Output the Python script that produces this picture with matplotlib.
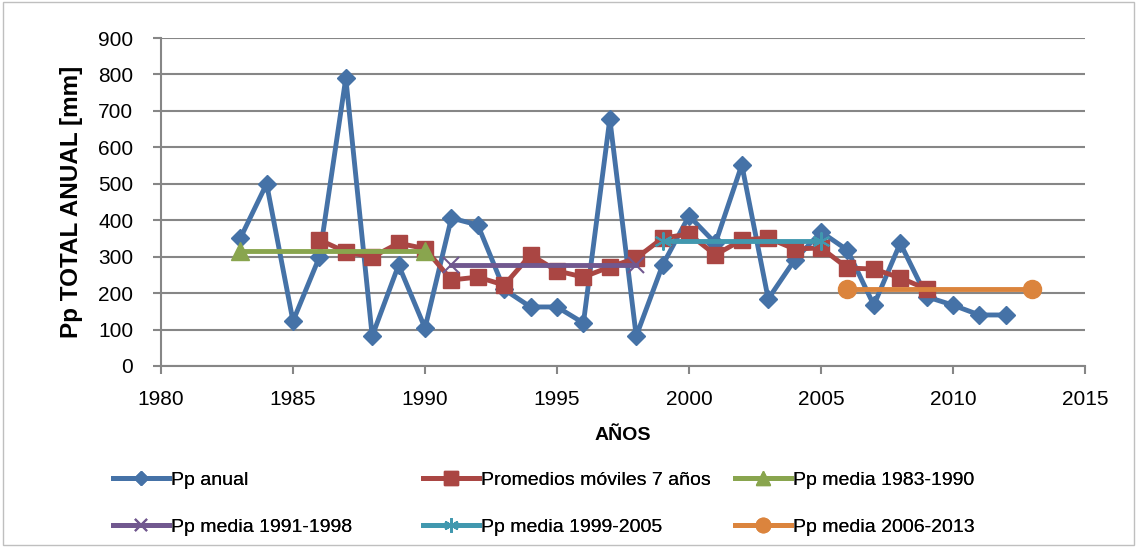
import matplotlib.pyplot as plt

plt.rcParams['font.family'] = ['Liberation Sans', 'DejaVu Sans']

# Precipitación anual
anios = list(range(1983, 2013))
pp_anual = [350, 500, 123, 299, 790, 82, 277, 104, 406, 387,
            210, 162, 162, 118, 678, 82, 277, 412, 337, 552,
            184, 291, 368, 318, 167, 337, 190, 167, 140, 140]

# Promedios móviles de 7 años
anios_pm = list(range(1986, 2010))
prom_moviles = [346, 313, 299, 337, 322, 236, 244, 222, 305, 261,
                244, 272, 296, 351, 362, 305, 346, 351, 321, 324,
                269, 266, 242, 211]

# Medias por periodo
periodos = [(1983, 1990), (1991, 1998), (1999, 2005), (2006, 2013)]
medias = [315, 277, 343, 210]

etiquetas = ['Pp anual', 'Promedios móviles 7 años', 'Pp media 1983-1990',
             'Pp media 1991-1998', 'Pp media 1999-2005', 'Pp media 2006-2013']
colores = ['#4572A7', '#AA4643', '#89A54E', '#71588F', '#4198AF', '#DB843D']
asterisco = (6, 2, 0)
marcadores = ['D', 's', '^', 'x', asterisco, 'o']
tamanos = [13, 11, 13, 13]

fig = plt.figure(figsize=(11.37, 5.47), dpi=100)
ax = fig.add_axes([0.1416, 0.3309, 0.8127, 0.5996])

lineas = []
l, = ax.plot(anios, pp_anual, color=colores[0], lw=3.5, marker='D', ms=9, zorder=3)
lineas.append(l)
l, = ax.plot(anios_pm, prom_moviles, color=colores[1], lw=3.5, marker='s', ms=12, zorder=4)
lineas.append(l)
for i, ((a, b), m) in enumerate(zip(periodos, medias)):
    mk = marcadores[i + 2]
    lineal = mk == 'x' or mk == asterisco
    l, = ax.plot([a, b], [m, m], color=colores[i + 2], lw=3.5, marker=mk, ms=tamanos[i],
                 mew=1.5 if lineal else 1, zorder=5)
    lineas.append(l)

ax.set_xlim(1980, 2015)
ax.set_ylim(0, 900)
ax.set_xticks(range(1980, 2016, 5))
ax.set_yticks(range(0, 901, 100))
ax.grid(axis='y', color='#868686', lw=1.5)
ax.set_axisbelow(True)
for s in ['top', 'right']:
    ax.spines[s].set_visible(False)
for s in ['left', 'bottom']:
    ax.spines[s].set_color('#868686')
    ax.spines[s].set_linewidth(1.5)
ax.tick_params(colors='#868686', width=1.5, length=6, labelsize=15, labelcolor='black')
ax.tick_params(axis='y', pad=14)
ax.tick_params(axis='x', pad=11)

ax.set_ylabel('Pp TOTAL ANUAL [mm]', fontsize=17.5, fontweight='bold', labelpad=11)
ax.set_xlabel('AÑOS', fontsize=14, fontweight='bold', labelpad=13)

# leyenda en tres columnas, ordenada por filas como en el original
xs_col = [0.0994, 0.372, 0.6464]
for c in range(3):
    idx = [c, c + 3]
    leg = fig.legend([lineas[i] for i in idx], [etiquetas[i] for i in idx],
                     loc='upper left', bbox_to_anchor=(xs_col[c], 0.138),
                     frameon=False, fontsize=14, handlelength=2.9, handletextpad=0.1,
                     labelspacing=1.5, borderpad=0, borderaxespad=0, markerscale=0.8)
    fig.add_artist(leg)

borde = plt.Rectangle((0.003, 0.003), 0.994, 0.994, transform=fig.transFigure,
                      fill=False, edgecolor='#BFBFBF', lw=1)
fig.patches.append(borde)

fig.savefig('out.png', dpi=100)
